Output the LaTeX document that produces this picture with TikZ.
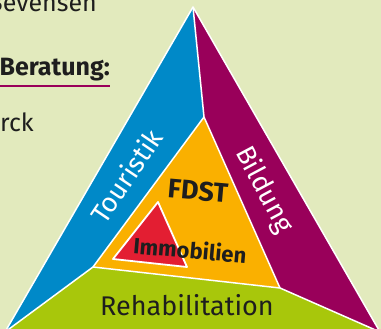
\documentclass[tikz,border=0pt]{standalone}
\usepackage{fontspec}
\setmainfont{Fira Sans}
\definecolor{bg}{HTML}{E2EABD}
\definecolor{tblue}{HTML}{0089C8}
\definecolor{tpurple}{HTML}{99005A}
\definecolor{torange}{HTML}{FAB000}
\definecolor{tgreen}{HTML}{A8C70B}
\definecolor{tred}{HTML}{E31E32}
\definecolor{ink}{HTML}{1E1E1E}

\begin{document}
\begin{tikzpicture}[x=1pt,y=-1pt,
  edge/.style={white,line width=1.5pt,line join=round},
  side/.style={white,inner sep=0,font=\fontsize{27}{27}\selectfont},
  core/.style={ink,inner sep=0,font=\bfseries\fontsize{#1}{#1}\selectfont},
  side text/.style={ink,inner sep=0,anchor=base east,font=\fontsize{25}{25}\selectfont}]
\useasboundingbox (0,0) rectangle (381,329);
\clip (0,0) rectangle (381,329);
\fill[bg] (0,0) rectangle (381,329);
\coordinate (A) at (193,7);
\coordinate (L) at (5,332);
\coordinate (R) at (380,332);
\coordinate (I) at (204,117);
\coordinate (P) at (93,267);
\coordinate (Q) at (280,288);
\fill[tblue] (A) -- (I) -- (P) -- (L) -- cycle;
\fill[tpurple] (A) -- (R) -- (Q) -- (I) -- cycle;
\fill[torange] (I) -- (P) -- (Q) -- cycle;
\fill[tgreen] (L) -- (P) -- (Q) -- (R) -- cycle;
\draw[edge] (L) -- (A) -- (R);
\draw[edge] (A) -- (I);
\draw[edge] (L) -- (P) -- (Q) -- (R);
\draw[edge] (P) -- (I) -- (Q);
\filldraw[tred,draw=white,line width=1.8pt,line join=round] (158,202) -- (113,259) -- (187,267) -- cycle;
\node[side,rotate=56] (touristik) at (126,176) {Touristik};
\node[side,rotate=-62] (bildung) at (264,190) {Bildung};
\node[core=27,rotate=-5] (fdst) at (198,191) {FDST};
\node[core=22,rotate=-5] (immo) at (190,250) {Immobilien};
\node[ink,inner sep=0,anchor=base,font=\fontsize{27}{27}\selectfont] (reha) at (187,316) {Rehabilitation};
\node[side text] (bevensen) at (97,12) {Bevensen};
\node[side text,font=\bfseries\fontsize{25}{25}\selectfont] (beratung) at (110,76) {Beratung:};
\node[side text] (rck) at (34,132) {rck};
\draw[tpurple,line width=2pt] (0,86) -- (beratung.east |- 0,86);
\end{tikzpicture}
\end{document}
